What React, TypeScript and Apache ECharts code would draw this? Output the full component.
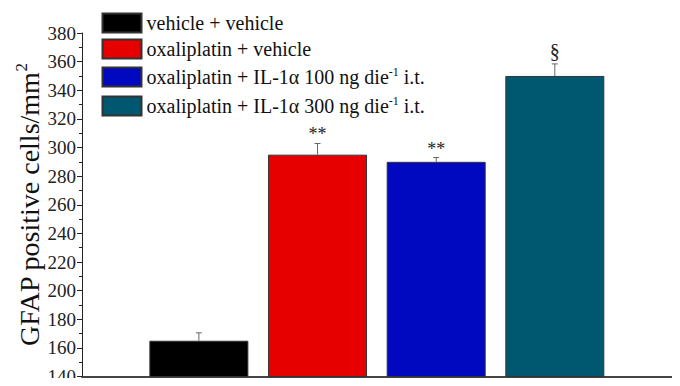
import React, { useEffect, useRef } from "react";
import * as echarts from "echarts";

const groups = [
  "vehicle + vehicle",
  "oxaliplatin + vehicle",
  "oxaliplatin + IL-1α 100 ng die-1 i.t.",
  "oxaliplatin + IL-1α 300 ng die-1 i.t.",
];
const positions = [1, 2, 3, 4];
const means = [165, 295, 290, 350];
const errors = [5.5, 7.8, 3, 8.4];
const sigLabels = ["", "**", "**", "§"];
const colors = ["#000000", "#e60000", "#0008c0", "#005870"];
const legendTops = [12.5, 38.5, 65.5, 94.5];

const serif = "'Liberation Serif', 'Times New Roman', serif";

export default function App() {
  const ref = useRef<HTMLDivElement>(null);
  useEffect(() => {
    if (!ref.current) return;
    const chart = echarts.init(ref.current, undefined, { renderer: "svg" });

    const barSeries = groups.map((g, i) => ({
      name: g,
      type: "bar",
      data: [[positions[i], means[i]]],
      barWidth: 99,
      barGap: "-100%",
      itemStyle: { color: colors[i], borderColor: "#333", borderWidth: 1 },
      z: 2,
    }));

    const errData = positions.map((p, i) => [p, means[i], errors[i], i]);

    const option: any = {
      animation: false,
      textStyle: { fontFamily: serif },
      grid: { left: 82, right: 0, top: 33, bottom: 5.5 },
      legend: groups.map((g, i) => ({
        data: [g],
        left: 101.5,
        top: legendTops[i],
        padding: 0,
        orient: "vertical",
        icon: "rect",
        itemWidth: 39,
        itemHeight: 19,
        itemGap: 5,
        selectedMode: false,
        formatter: (name: string) => name.replace("die-1", "die{sup|-1}"),
        textStyle: {
          fontFamily: serif,
          fontSize: 20,
          color: "#111",
          padding: [0, 0, 0, 0],
          rich: {
            sup: { fontFamily: serif, fontSize: 12, verticalAlign: "top", padding: [0, 0, 11, 0], color: "#111" },
          },
        },
      })),
      xAxis: {
        type: "value",
        min: 0.015,
        max: 5.055,
        axisLine: { show: true, lineStyle: { color: "#444", width: 2 } },
        axisTick: { show: false },
        axisLabel: { show: false },
        splitLine: { show: false },
      },
      yAxis: {
        type: "value",
        min: 140,
        max: 380,
        interval: 20,
        name: "GFAP positive cells/mm{sup|2}",
        nameLocation: "middle",
        nameGap: 36,
        nameMoveOverlap: false,
        nameTextStyle: {
          fontFamily: serif,
          fontSize: 28,
          color: "#111",
          rich: {
            sup: { fontFamily: serif, fontSize: 17, color: "#111", padding: [0, 0, 16, 0] },
          },
        },
        axisLine: { show: true, lineStyle: { color: "#222", width: 1 } },
        axisTick: { show: true, inside: false, length: 5, lineStyle: { color: "#222" } },
        minorTick: { show: true, splitNumber: 2, length: 3, lineStyle: { color: "#222" } },
        axisLabel: { fontFamily: serif, fontSize: 19, color: "#222", margin: 6 },
        splitLine: { show: false },
      },
      series: [
        ...barSeries,
        {
          type: "custom",
          name: "err",
          z: 3,
          data: errData,
          renderItem: (params: any, api: any) => {
            const x = api.value(0);
            const m = api.value(1);
            const e = api.value(2);
            const idx = api.value(3);
            const top = api.coord([x, m + e]);
            const base = api.coord([x, m]);
            const children: any[] = [
              { type: "line", shape: { x1: base[0], y1: base[1], x2: top[0], y2: top[1] }, style: { stroke: "#666", lineWidth: 1 } },
              { type: "line", shape: { x1: top[0] - 3, y1: top[1], x2: top[0] + 3, y2: top[1] }, style: { stroke: "#666", lineWidth: 1 } },
            ];
            const lab = sigLabels[idx];
            if (lab) {
              const isSec = lab === "§";
              children.push({
                type: "text",
                x: top[0],
                y: top[1] - (isSec ? 3 : 0),
                style: {
                  text: lab,
                  fontFamily: serif,
                  fontSize: isSec ? 20 : 18,
                  fill: "#222",
                  textAlign: "center",
                  textVerticalAlign: "bottom",
                },
              });
            }
            return { type: "group", children };
          },
        },
      ],
    };
    chart.setOption(option);
    return () => chart.dispose();
  }, []);
  return <div ref={ref} style={{ width: 680, height: 386, margin: -8 }} />;
}
